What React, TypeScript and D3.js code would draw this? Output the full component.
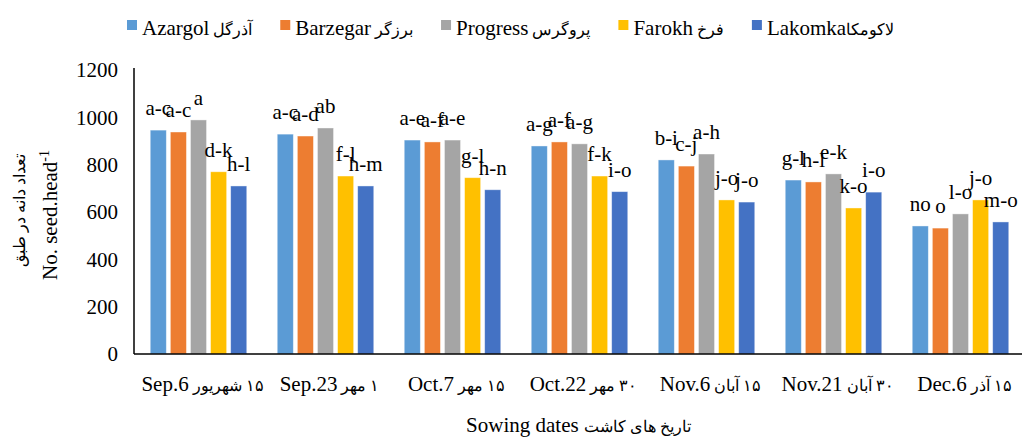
import { useEffect, useRef } from "react";
import * as d3 from "d3";

const dates = ["Sep.6", "Sep.23", "Oct.7", "Oct.22", "Nov.6", "Nov.21", "Dec.6"];
const datesFa = ["۱۵ شهریور", "۱ مهر", "۱۵ مهر", "۳۰ مهر", "۱۵ آبان", "۳۰ آبان", "۱۵ آذر"];

const cultivars = ["Azargol", "Barzegar", "Progress", "Farokh", "Lakomka"];
const cultivarsFa = ["آذرگل", "برزگر", "پروگرس", "فرخ", "لاکومکا"];
const colors = ["#5B9BD5", "#ED7D31", "#A5A5A5", "#FFC000", "#4472C4"];

// seeds per head, one array per cultivar
const azargol = [946, 929, 904, 879, 820, 735, 541];
const barzegar = [938, 921, 896, 896, 794, 727, 532];
const progress = [989, 955, 904, 888, 845, 761, 592];
const farokh = [770, 752, 745, 752, 651, 617, 651];
const lakomka = [710, 710, 694, 686, 642, 684, 558];

// mean comparison letters
const azargolL = ["a-c", "a-c", "a-e", "a-g", "b-i", "g-l", "no"];
const barzegarL = ["a-c", "a-d", "a-f", "a-f", "c-j", "h-l", "o"];
const progressL = ["a", "ab", "a-e", "a-g", "a-h", "e-k", "l-o"];
const farokhL = ["d-k", "f-l", "g-l", "f-k", "j-o", "k-o", "j-o"];
const lakomkaL = ["h-l", "h-m", "h-n", "i-o", "j-o", "i-o", "m-o"];

const yTicks = [0, 200, 400, 600, 800, 1000, 1200];

const seriesValues = [azargol, barzegar, progress, farokh, lakomka];
const seriesLetters = [azargolL, barzegarL, progressL, farokhL, lakomkaL];

const W = 1022;
const H = 441;
const FONT = "'Liberation Serif', 'Times New Roman', serif";

export default function App() {
  const ref = useRef<SVGSVGElement | null>(null);

  useEffect(() => {
    if (!ref.current) return;
    const svg = d3.select(ref.current);
    svg.selectAll("*").remove();

    const left = 135;
    const right = 1024;
    const top = 70;
    const bottom = 354;

    const x = d3.scaleBand<string>().domain(dates).range([left, right]).paddingInner(0.24).paddingOuter(0.12);
    const xs = d3.scaleBand<string>().domain(cultivars).range([0, x.bandwidth()]).paddingInner(0.2);
    const y = d3.scaleLinear().domain([0, 1200]).range([bottom, top]);

    // bars
    const groups = svg
      .append("g")
      .selectAll("g")
      .data(dates)
      .enter()
      .append("g")
      .attr("transform", d => `translate(${x(d)},0)`);

    cultivars.forEach((c, si) => {
      groups
        .append("rect")
        .attr("x", xs(c)!)
        .attr("width", xs.bandwidth())
        .attr("y", (_, i) => y(seriesValues[si][i]))
        .attr("height", (_, i) => bottom - y(seriesValues[si][i]))
        .attr("fill", colors[si])
        .attr("stroke", "#ffffff")
        .attr("stroke-opacity", 0.5)
        .attr("stroke-width", 0.8);
    });

    // letters
    cultivars.forEach((c, si) => {
      groups
        .append("text")
        .attr("x", xs(c)! + xs.bandwidth() / 2)
        .attr("y", (_, i) => y(seriesValues[si][i]) - 15)
        .attr("text-anchor", "middle")
        .attr("font-family", FONT)
        .attr("font-size", 21)
        .attr("fill", "#000")
        .text((_, i) => seriesLetters[si][i]);
    });

    // axes lines
    svg.append("line").attr("x1", left - 1).attr("x2", left - 1).attr("y1", top - 2).attr("y2", bottom)
      .attr("stroke", "#000").attr("stroke-width", 1.5);
    svg.append("line").attr("x1", left - 1).attr("x2", W).attr("y1", bottom).attr("y2", bottom)
      .attr("stroke", "#000").attr("stroke-width", 1.5);

    // y tick labels
    svg
      .append("g")
      .selectAll("text")
      .data(yTicks)
      .enter()
      .append("text")
      .attr("x", 118)
      .attr("y", d => y(d))
      .attr("dy", "0.35em")
      .attr("text-anchor", "end")
      .attr("font-family", FONT)
      .attr("font-size", 21)
      .text(d => d);

    // x tick labels
    const xl = svg
      .append("g")
      .selectAll("text")
      .data(dates)
      .enter()
      .append("text")
      .attr("x", d => x(d)! + x.bandwidth() / 2 + 4)
      .attr("y", 391)
      .attr("text-anchor", "middle")
      .attr("direction", "rtl")
      .attr("font-family", FONT)
      .attr("font-size", 21);
    xl.append("tspan").attr("font-size", 16).text((_, i) => datesFa[i] + " ");
    xl.append("tspan").attr("font-family", FONT).text(d => d);

    // x title
    const xt = svg
      .append("text")
      .attr("x", (left + W) / 2)
      .attr("y", 432)
      .attr("text-anchor", "middle")
      .attr("font-family", FONT)
      .attr("font-size", 21);
    xt.append("tspan").attr("font-family", FONT).text("Sowing dates ");
    xt.append("tspan").attr("font-size", 16).text("تاریخ های کاشت");

    // y title
    const yt = svg.append("g").attr("transform", "translate(57,215) rotate(-90)");
    const t1 = yt.append("text").attr("text-anchor", "middle").attr("font-family", FONT).attr("font-size", 21);
    t1.append("tspan").text("No. seed.head");
    t1.append("tspan").attr("font-size", 14).attr("dy", -8).text("-1");
    svg
      .append("text")
      .attr("transform", "translate(25,210) rotate(-90)")
      .attr("text-anchor", "middle")
      .attr("font-family", FONT)
      .attr("font-size", 16)
      .text("تعداد دانه در طبق");

    // legend
    const lg = svg.append("g");
    let lx = 127;
    cultivars.forEach((c, i) => {
      const item = lg.append("g").attr("transform", `translate(${lx},0)`);
      item.append("rect").attr("x", 0).attr("y", 20).attr("width", 10).attr("height", 10).attr("fill", colors[i]);
      const t = item
        .append("text")
        .attr("x", 15)
        .attr("y", 35)
        .attr("font-family", FONT)
        .attr("font-size", 21);
      t.append("tspan").attr("font-family", FONT).text(c);
      t.append("tspan").attr("font-size", 16).text((i === 4 ? "" : " ") + cultivarsFa[i]);
      const w = (t.node() as SVGTextElement).getComputedTextLength();
      lx += 15 + w + 28;
    });
  }, []);

  return (
    <div>
      <style>{`body{margin:0}`}</style>
      <svg ref={ref} width={W} height={H} style={{ display: "block", background: "#fff" }} />
    </div>
  );
}
